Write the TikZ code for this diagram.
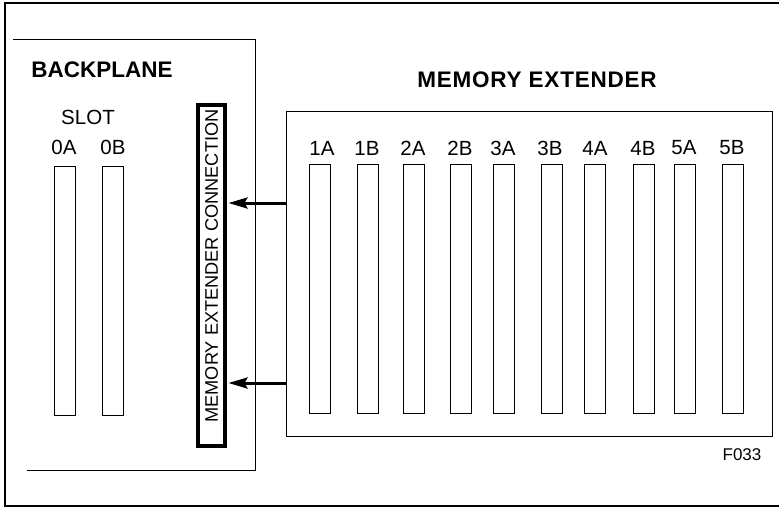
\documentclass[tikz,border=0pt]{standalone}
\usepackage{fontspec}
\setmainfont{Liberation Sans}
\usetikzlibrary{arrows.meta}
\begin{document}
\begin{tikzpicture}[x=1pt,y=-1pt,
  frame/.style={line width=1.1pt},
  slotbox/.style={draw,line width=0.9pt,minimum width=21pt,minimum height=249pt,inner sep=0pt},
  lbl/.style={font=\fontsize{20.5}{22}\selectfont,inner sep=0pt},
  title/.style={font=\fontsize{22.5}{25}\selectfont\bfseries,inner sep=0pt},
  arr/.style={line width=3pt,-{Stealth[length=19pt,width=11pt,inset=3pt]}}]
\useasboundingbox (0,0) rectangle (779,507);
% outer frame (open on the right)
\draw[frame] (779,3) -- (5,3) -- (5,506) -- (779,506);
% backplane outline (open on the left)
\draw[line width=0.9pt] (13,39) -- (255,39) -- (255,470) -- (27,470);
\node[title] (bp) at (102,70) {BACKPLANE};
\node[lbl] (slot) at (88,117) {SLOT};
\node[lbl] (l0A) at (64,147) {0A};
\node[lbl] (l0B) at (113,147) {0B};
\node[slotbox] (s0A) at (64.5,290.5) {};
\node[slotbox] (s0B) at (112.5,290.5) {};
% memory extender connection
\node[draw,line width=4pt,minimum width=27pt,minimum height=341pt,inner sep=0pt] (conn) at (211,275.5) {};
\node[rotate=90,font=\fontsize{18.2}{20}\selectfont,inner sep=0pt] (conntext) at (211.5,266) {MEMORY EXTENDER CONNECTION};
% memory extender
\node[title,font=\fontsize{22.5}{25}\selectfont\bfseries\addfontfeatures{LetterSpace=3.5}] (me) at (537,80) {MEMORY EXTENDER};
\node[draw,line width=0.9pt,minimum width=486pt,minimum height=325pt,inner sep=0pt] (mem) at (529,273.5) {};
\foreach \n/\x/\lx in {1A/320/322,1B/368/367,2A/413.5/413,2B/461/460,3A/503.5/503,3B/551.5/550,4A/595/595,4B/643.5/643,5A/684.5/684,5B/732.5/732}{
  \node[lbl] (l\n) at (\lx,148) {\n};
  \node[slotbox] (s\n) at (\x,288.5) {};
}
\node[font=\fontsize{17}{19}\selectfont,inner sep=0pt] (fig) at (742,455) {F033};
% arrows
\draw[arr] (mem.west |- 0,203) -- ([xshift=2pt]conn.east |- 0,203);
\draw[arr] (mem.west |- 0,383) -- ([xshift=2pt]conn.east |- 0,383);
\end{tikzpicture}
\end{document}
